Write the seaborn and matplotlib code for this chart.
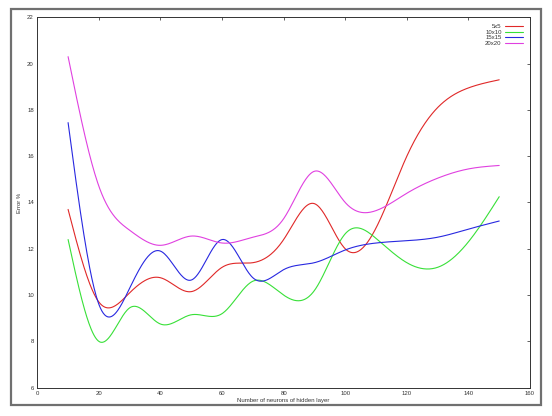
import numpy as np
import pandas as pd
import seaborn as sns
import matplotlib
matplotlib.use('Agg')
import matplotlib.pyplot as plt
from matplotlib.patches import Rectangle

# neurons in hidden layer
neurons = [10, 20, 30, 40, 50, 60, 70, 80, 90, 100, 110, 120, 130, 140, 150]

# error % per input size
err_5x5 = [13.7, 9.7, 10.1, 10.75, 10.15, 11.2, 11.4, 12.4, 13.95, 12.0, 12.9, 16.0, 18.1, 18.95, 19.3]
err_10x10 = [12.4, 8.0, 9.45, 8.75, 9.15, 9.2, 10.6, 10.0, 10.2, 12.65, 12.45, 11.4, 11.2, 12.3, 14.25]
err_15x15 = [17.45, 9.6, 10.3, 11.9, 10.65, 12.4, 10.75, 11.1, 11.4, 11.95, 12.25, 12.35, 12.5, 12.85, 13.2]
err_20x20 = [20.3, 14.7, 12.8, 12.15, 12.55, 12.25, 12.5, 13.3, 15.35, 14.0, 13.65, 14.4, 15.05, 15.45, 15.6]

series_names = ['5x5', '10x10', '15x15', '20x20']
colors = ['#e02828', '#38e038', '#2828e0', '#e040e0']


def csplines(x, y, xs):
    # natural cubic spline, like gnuplot "smooth csplines"
    x = np.asarray(x, float)
    y = np.asarray(y, float)
    n = len(x)
    h = np.diff(x)
    A = np.zeros((n, n))
    r = np.zeros(n)
    A[0, 0] = A[-1, -1] = 1
    for i in range(1, n - 1):
        A[i, i - 1] = h[i - 1]
        A[i, i] = 2 * (h[i - 1] + h[i])
        A[i, i + 1] = h[i]
        r[i] = 3 * ((y[i + 1] - y[i]) / h[i] - (y[i] - y[i - 1]) / h[i - 1])
    c = np.linalg.solve(A, r)
    b = (y[1:] - y[:-1]) / h - h * (2 * c[:-1] + c[1:]) / 3
    d = (c[1:] - c[:-1]) / (3 * h)
    idx = np.clip(np.searchsorted(x, xs) - 1, 0, n - 2)
    dx = xs - x[idx]
    return y[idx] + b[idx] * dx + c[idx] * dx ** 2 + d[idx] * dx ** 3


xs = np.linspace(neurons[0], neurons[-1], 600)
frames = []
for name, vals in zip(series_names, [err_5x5, err_10x10, err_15x15, err_20x20]):
    frames.append(pd.DataFrame({'neurons': xs, 'error': csplines(neurons, vals, xs), 'size': name}))
df = pd.concat(frames, ignore_index=True)

sns.set_theme(style='white')
plt.rcParams['font.family'] = ['Liberation Sans', 'DejaVu Sans']
fs = 4.3

fig = plt.figure(figsize=(5.52, 4.16), dpi=100)
ax = fig.add_axes([37.3 / 552, 1 - 387.7 / 416, (530 - 37.3) / 552, (387.7 - 17.3) / 416])

sns.lineplot(data=df, x='neurons', y='error', hue='size', hue_order=series_names,
             palette=colors, linewidth=0.8, legend=False, ax=ax, estimator=None, sort=False)

ax.set_xlim(0, 160)
ax.set_ylim(6, 22)
ax.set_xticks(range(0, 161, 20))
ax.set_yticks(range(6, 23, 2))
ax.tick_params(direction='in', length=2.2, width=0.5, labelsize=fs, top=True, right=True,
               pad=2.5, colors='#222222', labelcolor='#333333')
for s in ax.spines.values():
    s.set_color('#333333')
    s.set_linewidth(0.7)
ax.set_xlabel('Number of neurons of hidden layer', fontsize=fs, labelpad=1.5, color='#333333')
ax.set_ylabel('Error %', fontsize=fs, labelpad=4, color='#333333')

leg = ax.legend(ax.get_lines(), series_names, loc='upper right', fontsize=fs, frameon=False,
                markerfirst=False, handlelength=3.0, labelspacing=0.05, handletextpad=0.6,
                borderaxespad=0.75)
for t in leg.get_texts():
    t.set_color('#333333')

# grey outer frame
fig.patches.append(Rectangle((11 / 552, 1 - 405 / 416), 530 / 552, 396 / 416,
                             transform=fig.transFigure, fill=False, edgecolor='#707070',
                             linewidth=1.6, zorder=0))

fig.savefig('out.png', dpi=100)
